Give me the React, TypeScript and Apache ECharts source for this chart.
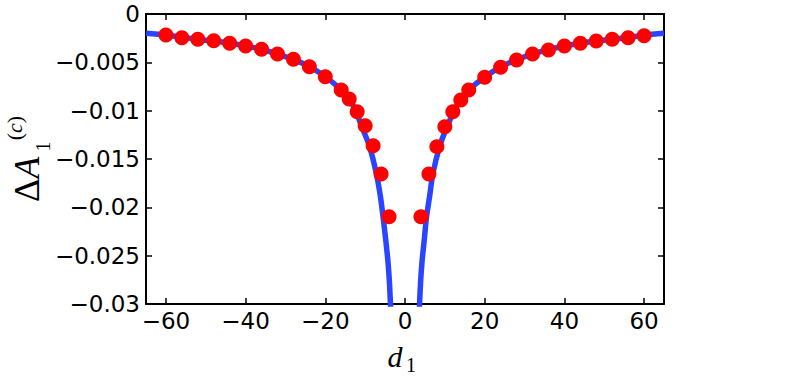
import React, { useEffect, useRef } from "react";
import * as echarts from "echarts";

// Tick values
const xTicks = [-60, -40, -20, 0, 20, 40, 60];
const yTicks = [0, -0.005, -0.01, -0.015, -0.02, -0.025, -0.03];

// Theory curve (blue), left and right branches
const curveLeftX = [-65, -60, -56, -52, -48, -44, -40, -36, -32, -28, -24, -20, -16, -14, -12.5, -10.8, -8.9, -7.2, -6.2, -5.5, -4.8, -4.3, -3.9, -3.5];
const curveLeftY = [-0.002, -0.00217, -0.0024, -0.00262, -0.0028, -0.00303, -0.00331, -0.00365, -0.00414, -0.00469, -0.00545, -0.00648, -0.00786, -0.0088, -0.0099, -0.0117, -0.0137, -0.0165, -0.0188, -0.021, -0.0235, -0.0255, -0.0278, -0.0315];
const curveRightX = [3.5, 3.9, 4.3, 4.8, 5.4, 6.2, 7.0, 8.7, 10.5, 12.5, 14, 16, 20, 24, 28, 32, 36, 40, 44, 48, 52, 56, 60, 65];
const curveRightY = [-0.0315, -0.0278, -0.0255, -0.0235, -0.021, -0.0188, -0.0165, -0.0137, -0.0117, -0.0099, -0.0088, -0.00786, -0.00652, -0.00548, -0.00472, -0.00414, -0.00368, -0.00331, -0.00303, -0.0028, -0.00262, -0.00243, -0.0022, -0.002];

// Simulation points (red)
const dotsX = [-60, -56, -52, -48, -44, -40, -36, -32, -28, -24, -20, -16, -14, -12, -10, -8, -6, -4,
  4, 6, 8, 10, 12, 14, 16, 20, 24, 28, 32, 36, 40, 44, 48, 52, 56, 60];
const dotsY = [-0.00217, -0.00245, -0.00262, -0.00276, -0.00303, -0.00331, -0.00365, -0.00414, -0.00469, -0.00545, -0.00648, -0.00786, -0.00879, -0.01011, -0.01155, -0.01362, -0.01655, -0.02097,
  -0.02097, -0.01655, -0.01372, -0.01166, -0.01011, -0.0089, -0.00786, -0.00655, -0.00551, -0.00476, -0.00414, -0.00372, -0.00331, -0.00303, -0.00279, -0.00262, -0.00245, -0.00224];

const zip = (xs: number[], ys: number[]) => xs.map((x, i) => [x, ys[i]]);

const fmtY = (v: number) => {
  if (Math.abs(v) < 1e-9) return "0";
  const s = String(Math.abs(Math.round(v * 100000) / 100000));
  return (v < 0 ? "\u2212" : "") + s;
};
const fmtX = (v: number) => (v < 0 ? "\u2212" + Math.abs(v) : String(v));

export default function App() {
  const ref = useRef<HTMLDivElement>(null);
  useEffect(() => {
    if (!ref.current) return;
    const chart = echarts.init(ref.current, undefined, { renderer: "svg" });
    const labelFont = { fontFamily: "DejaVu Sans", fontSize: 23, color: "#000" };
    const tickStyle = { show: true, inside: true, length: 6, lineStyle: { color: "#000", width: 1.5 } };
    const axisLine = { show: true, onZero: false, lineStyle: { color: "#000", width: 2 } };
    const lineStyle = { color: "#2a44ff", width: 5.5 };
    chart.setOption({
      animation: false,
      backgroundColor: "#fff",
      grid: { left: 146, right: 125, top: 14, bottom: 73, containLabel: false },
      xAxis: [
        {
          type: "value", min: -65, max: 65, position: "bottom",
          axisLine, splitLine: { show: false },
          axisTick: { ...tickStyle, customValues: xTicks },
          axisLabel: { ...labelFont, margin: 5, customValues: xTicks, formatter: fmtX },
        },
        {
          type: "value", min: -65, max: 65, position: "top",
          axisLine, splitLine: { show: false },
          axisTick: { ...tickStyle, customValues: xTicks },
          axisLabel: { show: false },
        },
      ],
      yAxis: [
        {
          type: "value", min: -0.03, max: 0, position: "left",
          axisLine, splitLine: { show: false },
          axisTick: { ...tickStyle, customValues: yTicks },
          axisLabel: { ...labelFont, margin: 6, customValues: yTicks, formatter: fmtY },
        },
        {
          type: "value", min: -0.03, max: 0, position: "right",
          axisLine, splitLine: { show: false },
          axisTick: { ...tickStyle, customValues: yTicks },
          axisLabel: { show: false },
        },
      ],
      series: [
        {
          type: "line", data: zip(curveLeftX, curveLeftY), showSymbol: false, symbol: "none",
          smooth: 0.3, clip: true, lineStyle, z: 2,
        },
        {
          type: "line", data: zip(curveRightX, curveRightY), showSymbol: false, symbol: "none",
          smooth: 0.3, clip: true, lineStyle, z: 2,
        },
        {
          type: "scatter", data: zip(dotsX, dotsY), symbol: "circle", symbolSize: 15,
          itemStyle: { color: "#ff0000", opacity: 1 }, z: 3,
        },
      ],
      graphic: [
        {
          type: "group", x: 27, y: 202, rotation: Math.PI / 2,
          children: [
            {
              type: "text", x: 0, y: 0,
              style: {
                text: "{u|\u0394}{i|A}", align: "left", verticalAlign: "middle",
                rich: {
                  u: { fontFamily: "Liberation Serif", fontSize: 36, fill: "#000" },
                  i: { fontFamily: "Liberation Serif", fontStyle: "italic", fontSize: 36, fill: "#000" },
                },
              },
            },
            {
              type: "text", x: 55.5, y: 16,
              style: { text: "1", fontFamily: "Liberation Serif", fontSize: 20, fill: "#000", align: "center", verticalAlign: "middle" },
            },
            {
              type: "text", x: 74, y: -12.5,
              style: {
                text: "({i|c})", fontFamily: "Liberation Serif", fontSize: 22, fill: "#000", align: "center", verticalAlign: "middle",
                rich: { i: { fontFamily: "Liberation Serif", fontStyle: "italic", fontSize: 22, fill: "#000" } },
              },
            },
          ],
        },
        {
          type: "text", x: 395, y: 356,
          style: { text: "d", fontFamily: "Liberation Serif", fontStyle: "italic", fontSize: 30, fill: "#000", align: "center", verticalAlign: "middle" },
        },
        {
          type: "text", x: 411, y: 365,
          style: { text: "1", fontFamily: "Liberation Serif", fontSize: 20, fill: "#000", align: "center", verticalAlign: "middle" },
        },
      ],
    });
    return () => chart.dispose();
  }, []);
  return <div ref={ref} style={{ position: "fixed", left: 0, top: 0, width: 789, height: 377 }} />;
}
